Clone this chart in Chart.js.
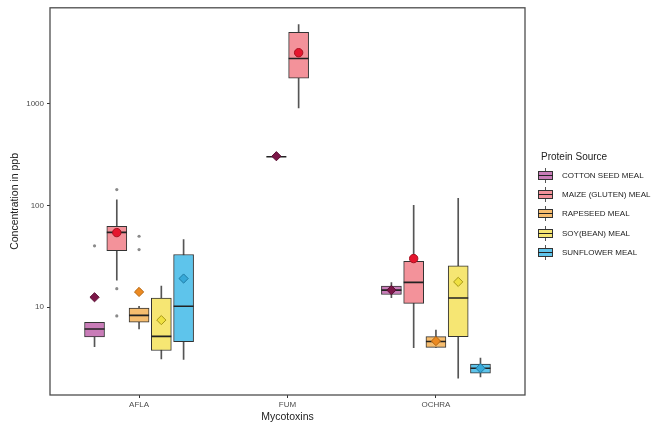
<!DOCTYPE html>
<html>
<head>
<meta charset="utf-8">
<script src="https://cdn.jsdelivr.net/npm/chart.js@4.4.1/dist/chart.umd.min.js"></script>
<style>
  body { margin: 0; background: #fff; font-family: "Liberation Sans", Arial, sans-serif; }
  #wrap { position: relative; width: 668px; height: 425px; }
  #legend { position: absolute; left: 537px; top: 150px; color: #222; }
  #legend .title { font-size: 10px; height: 14px; line-height: 14px; margin-left: 4px; margin-bottom: 2px; }
  #legend .row { display: flex; align-items: center; height: 19.2px; }
  #legend .label { font-size: 8px; margin-left: 8px; }
  .key { position: relative; width: 17px; height: 17px; }
  .key .wh { position: absolute; left: 8px; top: 1px; width: 1px; height: 15px; background: #555; }
  .key .bx { position: absolute; left: 1px; top: 4px; width: 13px; height: 7px; border: 1px solid #333; }
  .key .md { position: absolute; left: 1px; top: 8px; width: 15px; height: 1px; background: #222; }
</style>
</head>
<body>
<div id="wrap">
  <canvas id="chart" width="668" height="425"></canvas>
  <div id="legend"><div class="title">Protein Source</div></div>
</div>
<script>
const mycotoxins = ['AFLA', 'FUM', 'OCHRA'];
const sources = ['COTTON SEED MEAL', 'MAIZE (GLUTEN) MEAL', 'RAPESEED MEAL', 'SOY(BEAN) MEAL', 'SUNFLOWER MEAL'];
const yTicks = [10, 100, 1000];

// [low whisker, q1, median, q3, high whisker] for AFLA, FUM, OCHRA (null = no samples)
const cottonStats = [[4.1, 5.1, 6.1, 7.1, 7.1], [300, 300, 300, 300, 300], [12.4, 13.3, 14.7, 16.1, 17.4]];
const maizeStats = [[18.4, 35.8, 54.3, 62.2, 113], [907, 1778, 2773, 5000, 5957], [4.0, 10.9, 17.5, 28.2, 100]];
const rapeseedStats = [[6.1, 7.1, 8.3, 9.8, 10.2], null, [4.03, 4.03, 4.6, 5.14, 5.96]];
const soyStats = [[3.1, 3.75, 5.16, 12.3, 16.1], null, [2.0, 5.12, 12.3, 25.4, 117]];
const sunflowerStats = [[3.07, 4.57, 10.2, 32.9, 46.1], null, [2.06, 2.25, 2.51, 2.76, 3.16]];

const cottonMean = [12.5, 304, 14.7];
const maizeMean = [54, 3160, 30];
const rapeseedMean = [14.1, null, 4.64];
const soyMean = [7.46, null, 17.7];
const sunflowerMean = [19.1, null, 2.51];

const cottonOutliers = [[40], [], []];
const maizeOutliers = [[143, 15.2, 8.2], [], []];
const rapeseedOutliers = [[49.7, 36.8], [], []];
const soyOutliers = [[], [], []];
const sunflowerOutliers = [[], [], []];

const fills = ['#c97cb8', '#f3929a', '#f6bd6f', '#f6e673', '#5ec4eb'];
const meanFills = ['#7c1748', '#e5162e', '#ec8a22', '#efe040', '#37a9d8'];
const meanBorders = ['#5a0f33', '#a8101f', '#b5660f', '#a89818', '#1f7ca5'];
const meanStyles = ['rectRot', 'circle', 'rectRot', 'rectRot', 'rectRot'];

const statsBySource = [cottonStats, maizeStats, rapeseedStats, soyStats, sunflowerStats];
const meansBySource = [cottonMean, maizeMean, rapeseedMean, soyMean, sunflowerMean];
const outliersBySource = [cottonOutliers, maizeOutliers, rapeseedOutliers, soyOutliers, sunflowerOutliers];

// dodge like ggplot's position_dodge2(preserve = "single")
function dodgeX(s, c) {
  const present = statsBySource.map((st, i) => (st[c] ? i : -1)).filter(i => i >= 0);
  const k = present.indexOf(s);
  return c + 1 + (k - (present.length - 1) / 2) * 0.15;
}

const datasets = [];
statsBySource.forEach((stats, s) => {
  const whisk = [], box = [], med = [], mean = [], out = [];
  stats.forEach((st, c) => {
    if (!st) return;
    const x = dodgeX(s, c);
    whisk.push({ x: x, y: [st[0], st[4]] });
    box.push({ x: x, y: [st[1], st[3]] });
    med.push({ x: x, y: st[2] });
    if (meansBySource[s][c] != null) mean.push({ x: x, y: meansBySource[s][c] });
    outliersBySource[s][c].forEach(v => out.push({ x: x, y: v }));
  });
  datasets.push({ type: 'bar', data: whisk, backgroundColor: '#555', barThickness: 1, grouped: false, order: 6 });
  datasets.push({ type: 'bar', data: box, backgroundColor: fills[s], borderColor: '#333', borderWidth: 1,
    borderSkipped: false, barThickness: 20, grouped: false, order: 5 });
  datasets.push({ type: 'scatter', data: med, pointStyle: 'line', pointRadius: 10, borderColor: '#222',
    pointBorderWidth: 1.6, order: 4 });
  datasets.push({ type: 'scatter', data: out, pointStyle: 'circle', pointRadius: 1.6, backgroundColor: '#8a8a8a',
    borderColor: '#8a8a8a', pointBorderWidth: 0, order: 3 });
  datasets.push({ type: 'scatter', data: mean, pointStyle: meanStyles[s], pointRadius: s === 1 ? 4.2 : 4.6,
    backgroundColor: meanFills[s], borderColor: meanBorders[s], pointBorderWidth: 1, order: 1 });
});

const panelBorder = {
  id: 'panelBorder',
  afterDraw(chart) {
    const { ctx, chartArea: a } = chart;
    ctx.save();
    ctx.strokeStyle = '#4d4d4d';
    ctx.lineWidth = 1.3;
    ctx.strokeRect(a.left, a.top, a.right - a.left, a.bottom - a.top);
    ctx.restore();
  }
};

const fam = '"Liberation Sans", Arial, sans-serif';
new Chart(document.getElementById('chart'), {
  type: 'bar',
  data: { datasets: datasets },
  options: {
    responsive: false,
    animation: false,
    layout: { autoPadding: false, padding: { top: 7, right: 143, left: 0, bottom: 0 } },
    plugins: { legend: { display: false }, tooltip: { enabled: false } },
    scales: {
      x: {
        type: 'linear', min: 0.4, max: 3.6, bounds: 'data', offset: false,
        afterBuildTicks: s => { s.ticks = mycotoxins.map((m, i) => ({ value: i + 1 })); },
        afterFit: s => { s.height = 30; },
        ticks: { callback: v => mycotoxins[v - 1], font: { size: 8, family: fam }, color: '#4d4d4d', padding: 2, maxRotation: 0 },
        grid: { offset: false, drawOnChartArea: false, drawTicks: true, tickLength: 3, tickColor: '#333' },
        border: { display: false },
        title: { display: true, text: 'Mycotoxins', font: { size: 10.5, family: fam }, color: '#222', padding: { top: 0, bottom: 2 } }
      },
      y: {
        type: 'logarithmic', min: 1.37, max: 8730, bounds: 'data',
        afterBuildTicks: s => { s.ticks = yTicks.map(v => ({ value: v })); },
        afterFit: s => { s.width = 50; },
        ticks: { callback: v => String(v), font: { size: 8, family: fam }, color: '#4d4d4d', padding: 3, autoSkip: false },
        grid: { drawOnChartArea: false, drawTicks: true, tickLength: 3, tickColor: '#333' },
        border: { display: false },
        title: { display: true, text: 'Concentration in ppb', font: { size: 10.5, family: fam }, color: '#222', padding: { top: 9, bottom: 0 } }
      }
    }
  },
  plugins: [panelBorder]
});

// legend built as html, like ggplot's boxplot keys
const legend = document.getElementById('legend');
sources.forEach((name, i) => {
  const row = document.createElement('div');
  row.className = 'row';
  row.innerHTML = '<div class="key"><div class="wh"></div><div class="bx" style="background:' + fills[i] +
    '"></div><div class="md"></div></div><div class="label">' + name + '</div>';
  legend.appendChild(row);
});
</script>
</body>
</html>
